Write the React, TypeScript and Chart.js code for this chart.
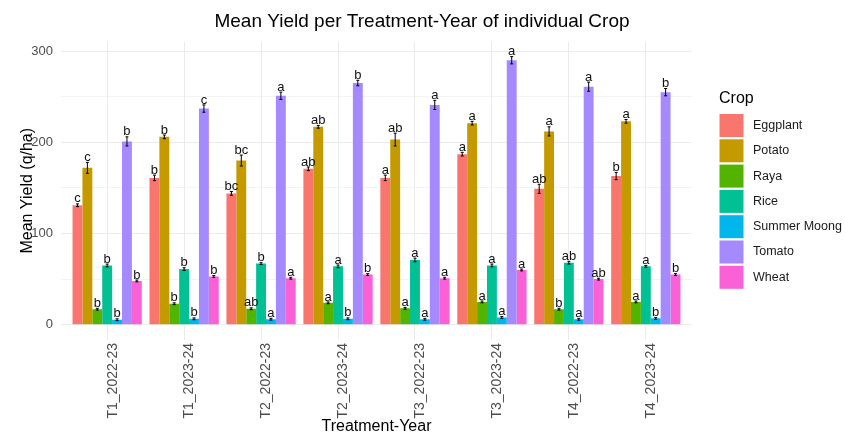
import React, { useEffect, useRef } from "react";
import { Chart, registerables } from "chart.js";
Chart.register(...registerables);

const categories = ["T1_2022-23", "T1_2023-24", "T2_2022-23", "T2_2023-24", "T3_2022-23", "T3_2023-24", "T4_2022-23", "T4_2023-24"];
const crops = ["Eggplant", "Potato", "Raya", "Rice", "Summer Moong", "Tomato", "Wheat"];
const cropColors = ["#F8766D", "#C49A00", "#53B400", "#00C094", "#00B6EB", "#A58AFF", "#FB61D7"];

const eggplant = [131, 161, 144, 171, 161, 187, 149, 163];
const potato = [172, 206, 180, 217, 203, 221, 212, 223];
const raya = [17, 23, 17.5, 24, 18, 25, 17, 25];
const rice = [65, 61, 67, 64, 71, 65, 68, 64];
const summerMoong = [5.5, 6.5, 6, 6.5, 6, 8, 6, 7];
const tomato = [201, 237, 251, 265, 241, 290, 261, 255];
const wheat = [48, 53, 51, 55, 51, 60, 50, 55];

const eggplantErr = [1.5, 3, 2, 2, 3, 2, 5, 4];
const potatoErr = [6, 2, 6, 1.5, 7, 2, 5, 2];
const rayaErr = [1, 1, 1, 1, 1, 1, 1, 1];
const riceErr = [1.5, 1.5, 1, 1.5, 2, 1.5, 1.5, 1];
const summerMoongErr = [1, 1, 1, 1, 1, 1, 1, 1];
const tomatoErr = [5, 4, 4, 3, 5, 4, 5, 4];
const wheatErr = [1, 1, 1, 1, 1, 1, 1, 1];

const eggplantLetters = ["c", "b", "bc", "ab", "a", "a", "ab", "b"];
const potatoLetters = ["c", "b", "bc", "ab", "ab", "a", "a", "a"];
const rayaLetters = ["b", "b", "ab", "a", "a", "a", "b", "a"];
const riceLetters = ["b", "b", "b", "a", "a", "a", "ab", "a"];
const summerMoongLetters = ["b", "b", "a", "b", "a", "a", "a", "b"];
const tomatoLetters = ["b", "c", "a", "b", "a", "a", "a", "b"];
const wheatLetters = ["b", "b", "a", "b", "a", "a", "ab", "b"];

const yTicks = [0, 50, 100, 150, 200, 250, 300];

const seriesValues = [eggplant, potato, raya, rice, summerMoong, tomato, wheat];
const seriesErr = [eggplantErr, potatoErr, rayaErr, riceErr, summerMoongErr, tomatoErr, wheatErr];
const seriesLetters = [eggplantLetters, potatoLetters, rayaLetters, riceLetters, summerMoongLetters, tomatoLetters, wheatLetters];

const FONT = "'Liberation Sans', Arial, sans-serif";

const annotatePlugin = {
  id: "annotate",
  afterDatasetsDraw(chart: any) {
    const ctx = chart.ctx;
    const y = chart.scales.y;
    ctx.save();
    chart.data.datasets.forEach((ds: any, di: number) => {
      const meta = chart.getDatasetMeta(di);
      meta.data.forEach((el: any, i: number) => {
        const v = seriesValues[di][i];
        const e = seriesErr[di][i];
        const x = el.x;
        const yTop = y.getPixelForValue(v + e);
        const yBot = y.getPixelForValue(v - e);
        ctx.strokeStyle = "#000";
        ctx.lineWidth = 1;
        ctx.beginPath();
        ctx.moveTo(x, yTop);
        ctx.lineTo(x, yBot);
        ctx.moveTo(x - 1.5, yTop);
        ctx.lineTo(x + 1.5, yTop);
        ctx.moveTo(x - 1.5, yBot);
        ctx.lineTo(x + 1.5, yBot);
        ctx.stroke();
        ctx.fillStyle = "#111";
        ctx.font = `13px ${FONT}`;
        ctx.textAlign = "center";
        ctx.textBaseline = "bottom";
        ctx.fillText(seriesLetters[di][i], x, yTop + 1.5);
      });
    });
    ctx.restore();
  },
  afterDraw(chart: any) {
    const ctx = chart.ctx;
    const area = chart.chartArea;
    const xs = chart.scales.x;
    ctx.save();
    // x tick labels
    ctx.fillStyle = "#4D4D4D";
    ctx.font = `14px ${FONT}`;
    ctx.textAlign = "right";
    ctx.textBaseline = "middle";
    categories.forEach((c, i) => {
      const px = xs.getPixelForTick(i) + 5.5;
      ctx.save();
      ctx.translate(px, 343);
      ctx.rotate(-Math.PI / 2);
      ctx.fillText(c, 0, 0);
      ctx.restore();
    });
    ctx.fillStyle = "#000";
    ctx.textAlign = "center";
    ctx.textBaseline = "middle";
    ctx.font = `19px ${FONT}`;
    ctx.fillText("Mean Yield per Treatment-Year of individual Crop", 422, 22);
    ctx.font = `16px ${FONT}`;
    ctx.fillText("Treatment-Year", (area.left + area.right) / 2, 427);
    ctx.save();
    ctx.translate(27.5, (area.top + area.bottom) / 2);
    ctx.rotate(-Math.PI / 2);
    ctx.fillText("Mean Yield (q/ha)", 0, 0);
    ctx.restore();
    // legend
    ctx.textAlign = "left";
    ctx.font = `16px ${FONT}`;
    ctx.fillText("Crop", 719, 99);
    ctx.font = `12.5px ${FONT}`;
    crops.forEach((c, i) => {
      const top = 114 + i * 25.3;
      ctx.fillStyle = cropColors[i];
      ctx.fillRect(719.5, top, 24, 23);
      ctx.fillStyle = "#1A1A1A";
      ctx.fillText(c, 753, top + 11.5);
    });
    ctx.restore();
  },
};

export default function App() {
  const ref = useRef<HTMLCanvasElement>(null);
  useEffect(() => {
    if (!ref.current) return;
    const chart = new Chart(ref.current, {
      type: "bar",
      data: {
        labels: categories,
        datasets: crops.map((c, i) => ({
          label: c,
          data: seriesValues[i],
          backgroundColor: cropColors[i],
          borderWidth: 0,
          categoryPercentage: 0.9,
          barPercentage: 1.0,
        })),
      },
      options: {
        animation: false,
        responsive: false,
        maintainAspectRatio: false,
        layout: { padding: { left: 0, top: 42, right: 153, bottom: 0 } },
        plugins: {
          legend: { display: false },
          title: { display: false },
          tooltip: { enabled: false },
        },
        scales: {
          x: {
            offset: true,
            grid: { offset: false, color: "#EBEBEB", lineWidth: 1, drawTicks: false },
            border: { display: false },
            ticks: { display: false },
            afterFit: (s: any) => {
              s.height = 436 - 339.5;
            },
            afterBuildTicks: (s: any) => {
              s._valueRange = s.getLabels().length - 1 + 1.2;
              s._startValue = -0.6;
            },
          } as any,
          y: {
            min: -16.2,
            max: 310,
            grid: {
              color: "#EBEBEB",
              lineWidth: (ctx: any) => (ctx.tick && ctx.tick.value % 100 === 0 ? 1.1 : 0.6),
              drawTicks: false,
            },
            border: { display: false },
            ticks: {
              padding: 8,
              color: "#4D4D4D",
              font: { family: FONT, size: 13 },
              callback: (v: any) => (Number(v) % 100 === 0 ? String(v) : ""),
            },
            afterBuildTicks: (s: any) => {
              s.ticks = yTicks.map((v) => ({ value: v }));
            },
            afterFit: (s: any) => {
              s.width = 61;
            },
          } as any,
        },
      },
      plugins: [annotatePlugin],
    });
    return () => chart.destroy();
  }, []);
  return (
    <div style={{ position: "fixed", left: 0, top: 0, width: 845, height: 436, background: "#fff" }}>
      <canvas ref={ref} width={845} height={436} style={{ width: 845, height: 436, display: "block" }} />
    </div>
  );
}
